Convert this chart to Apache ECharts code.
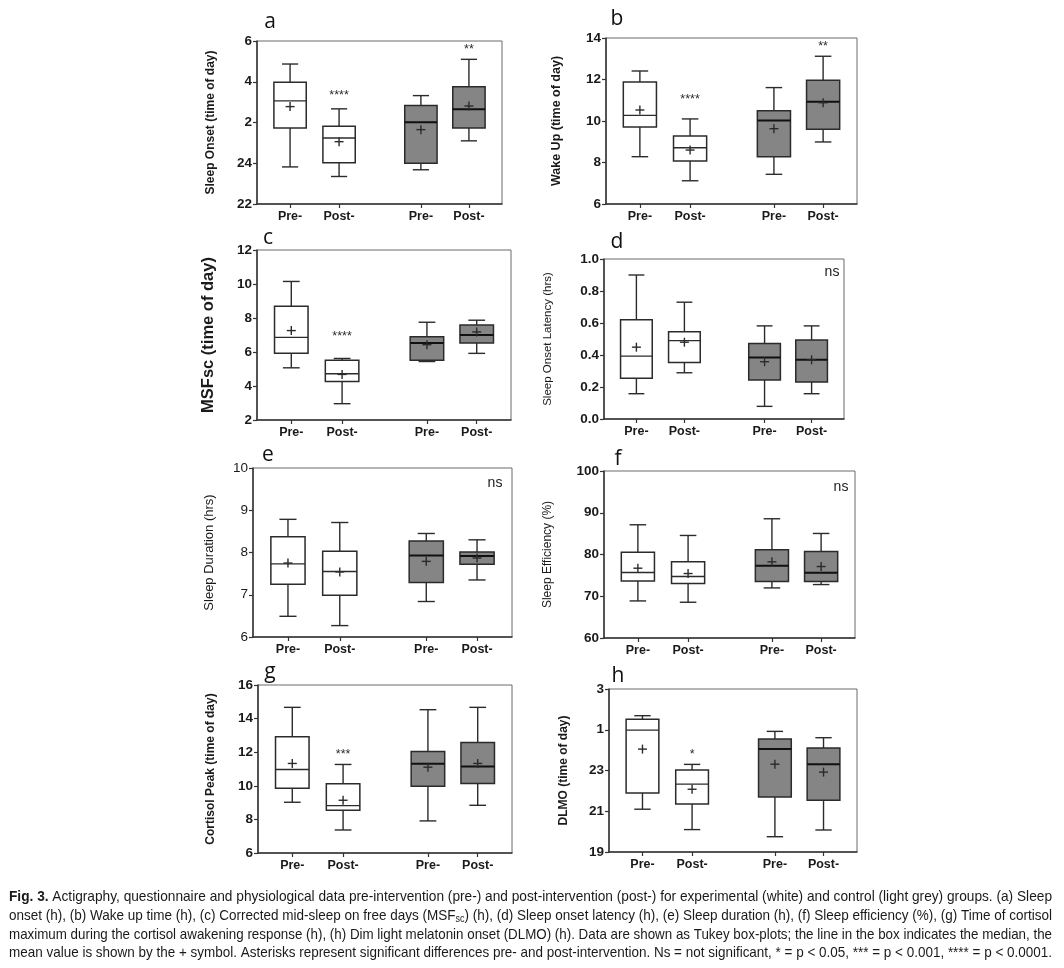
<!DOCTYPE html>
<html lang="en">
<head>
<meta charset="UTF-8">
<title>Fig. 3</title>
<style>
  html, body { margin: 0; padding: 0; background: #fff; }
  #chart { width: 1064px; height: 968px; }
</style>
</head>
<body>
<div id="chart"></div>
<script src="https://cdn.jsdelivr.net/npm/echarts@6/dist/echarts.min.js"></script>
<script>
// groups on every panel: experimental pre/post, control pre/post
var groupLabels = ['Pre-', 'Post-', 'Pre-', 'Post-'];
var groupX = [1, 2, 3.67, 4.65];

// box stats per group: [min, Q1, median, Q3, max, mean]
// clock times after midnight are written as 24+ (e.g. 2 h -> 26)
var sleepOnset = [
  [23.82, 25.73, 27.06, 27.98, 28.87, 26.78],
  [23.35, 24.02, 25.24, 25.81, 26.67, 25.06],
  [23.68, 24.00, 26.01, 26.83, 27.32, 25.65],
  [25.10, 25.73, 26.65, 27.75, 29.10, 26.81]
];
var sleepOnsetSig = ['', '****', '', '**'];
var sleepOnsetSigAt = [null, 27.3, null, 29.57];

var wakeUp = [
  [8.28, 9.71, 10.27, 11.88, 12.41, 10.53],
  [7.12, 8.07, 8.71, 9.28, 10.10, 8.60],
  [7.43, 8.28, 10.02, 10.50, 11.61, 9.63],
  [8.99, 9.60, 10.93, 11.96, 13.12, 10.88]
];
var wakeUpSig = ['', '****', '', '**'];
var wakeUpSigAt = [null, 11.04, null, 13.57];

var msfsc = [
  [5.07, 5.92, 6.86, 8.69, 10.15, 7.26],
  [2.96, 4.26, 4.72, 5.52, 5.62, 4.68],
  [5.44, 5.52, 6.53, 6.90, 7.75, 6.43],
  [5.92, 6.53, 7.00, 7.59, 7.87, 7.18]
];
var msfscSig = ['', '****', '', ''];
var msfscSigAt = [null, 6.9, null, null];

var latency = [
  [0.158, 0.254, 0.393, 0.620, 0.900, 0.449],
  [0.289, 0.353, 0.490, 0.545, 0.730, 0.480],
  [0.079, 0.243, 0.385, 0.472, 0.582, 0.358],
  [0.158, 0.231, 0.370, 0.493, 0.582, 0.370]
];

var duration = [
  [6.49, 7.25, 7.73, 8.375, 8.785, 7.75],
  [6.27, 6.99, 7.55, 8.03, 8.71, 7.54],
  [6.84, 7.29, 7.93, 8.27, 8.45, 7.79],
  [7.35, 7.72, 7.92, 8.01, 8.30, 7.87]
];

var efficiency = [
  [68.88, 73.68, 75.68, 80.56, 87.12, 76.72],
  [68.56, 73.04, 74.72, 78.24, 84.56, 75.44],
  [72.00, 73.52, 77.28, 81.12, 88.56, 78.24],
  [72.80, 73.52, 75.60, 80.72, 85.04, 77.12]
];

var cortisol = [
  [9.02, 9.86, 10.97, 12.92, 14.67, 11.33],
  [7.37, 8.54, 8.82, 10.12, 11.27, 9.14],
  [7.91, 9.98, 11.31, 12.04, 14.53, 11.11],
  [8.84, 10.14, 11.15, 12.58, 14.67, 11.33]
];
var cortisolSig = ['', '***', '', ''];
var cortisolSigAt = [null, 11.88, null, null];

var dlmo = [
  [21.10, 21.90, 24.98, 25.52, 25.69, 24.05],
  [20.10, 21.36, 22.33, 23.02, 23.30, 22.08],
  [19.75, 21.70, 24.05, 24.54, 24.92, 23.31],
  [20.08, 21.54, 23.31, 24.10, 24.61, 22.92]
];
var dlmoSig = ['', '*', '', ''];
var dlmoSigAt = [null, 23.8, null, null];

var captionLines = [
  '{b|Fig. 3.} Actigraphy, questionnaire and physiological data pre-intervention (pre-) and post-intervention (post-) for experimental (white) and control (light grey) groups. (a) Sleep',
  'onset (h), (b) Wake up time (h), (c) Corrected mid-sleep on free days (MSF{sub|sc}) (h), (d) Sleep onset latency (h), (e) Sleep duration (h), (f) Sleep efficiency (%), (g) Time of cortisol',
  'maximum during the cortisol awakening response (h), (h) Dim light melatonin onset (DLMO) (h). Data are shown as Tukey box-plots; the line in the box indicates the median, the',
  'mean value is shown by the + symbol. Asterisks represent significant differences pre- and post-intervention. Ns = not significant, * = p < 0.05, *** = p < 0.001, **** = p < 0.0001.'
];

function clock(v) { return v > 24 ? String(v - 24) : String(v); }

var panels = [
  { letter: 'a', box: [257, 41, 245, 163], min: 22, max: 30, step: 2, fmt: clock,
    name: 'Sleep Onset (time of day)', nameSize: 12, nameBold: true, nameGap: 40,
    stats: sleepOnset, sig: sleepOnsetSig, sigAt: sleepOnsetSigAt, lx: 270, ly: 22 },
  { letter: 'b', box: [606, 38, 251, 166], min: 6, max: 14, step: 2,
    name: 'Wake Up (time of day)', nameSize: 12.5, nameBold: true, nameGap: 43,
    stats: wakeUp, sig: wakeUpSig, sigAt: wakeUpSigAt, lx: 617, ly: 19 },
  { letter: 'c', box: [257, 250, 254, 170], min: 2, max: 12, step: 2,
    name: 'MSFsc (time of day)', nameSize: 16.5, nameBold: true, nameGap: 40,
    stats: msfsc, sig: msfscSig, sigAt: msfscSigAt, lx: 268, ly: 238 },
  { letter: 'd', box: [604, 259, 240, 160], min: 0, max: 1, step: 0.2,
    fmt: function (v) { return v.toFixed(1); },
    name: 'Sleep Onset Latency (hrs)', nameSize: 11.5, nameBold: false, nameGap: 50,
    stats: latency, ns: [832, 272], lx: 617, ly: 242 },
  { letter: 'e', box: [253, 468, 259, 169], min: 6, max: 10, step: 1, tickLight: true,
    name: 'Sleep Duration (hrs)', nameSize: 13, nameBold: false, nameGap: 37,
    stats: duration, ns: [495, 483], lx: 268, ly: 455 },
  { letter: 'f', box: [604, 471, 251, 167], min: 60, max: 100, step: 10,
    name: 'Sleep Efficiency (%)', nameSize: 12, nameBold: false, nameGap: 50,
    stats: efficiency, ns: [841, 487], lx: 618, ly: 459 },
  { letter: 'g', box: [258, 685, 254, 168], min: 6, max: 16, step: 2,
    name: 'Cortisol Peak (time of day)', nameSize: 12, nameBold: true, nameGap: 41,
    stats: cortisol, sig: cortisolSig, sigAt: cortisolSigAt, lx: 270, ly: 672 },
  { letter: 'h', box: [609, 689, 248, 163], min: 19, max: 27, step: 2, fmt: clock,
    name: 'DLMO (time of day)', nameSize: 12, nameBold: true, nameGap: 39,
    stats: dlmo, sig: dlmoSig, sigAt: dlmoSigAt, lx: 618, ly: 676 }
];

var ink = '#2b2b2b';
var font = '"Liberation Sans", Arial, sans-serif';

function boxRenderer(params, api) {
  var x = api.value(0);
  var pMin = api.coord([x, api.value(1)]);
  var pQ1 = api.coord([x, api.value(2)]);
  var pMed = api.coord([x, api.value(3)]);
  var pQ3 = api.coord([x, api.value(4)]);
  var pMax = api.coord([x, api.value(5)]);
  var pMean = api.coord([x, api.value(6)]);
  var half = api.size([0.33, 0])[0];
  var cap = half * 0.5;
  var cx = pMed[0];
  var grey = params.dataIndex >= 2;
  var line = { stroke: ink, lineWidth: 1.4 };
  return {
    type: 'group',
    children: [
      { type: 'line', shape: { x1: cx, y1: pMin[1], x2: cx, y2: pMax[1] }, style: line },
      { type: 'line', shape: { x1: cx - cap, y1: pMin[1], x2: cx + cap, y2: pMin[1] }, style: line },
      { type: 'line', shape: { x1: cx - cap, y1: pMax[1], x2: cx + cap, y2: pMax[1] }, style: line },
      { type: 'rect', shape: { x: cx - half, y: pQ3[1], width: half * 2, height: pQ1[1] - pQ3[1] },
        style: { fill: grey ? '#858585' : '#fff', stroke: ink, lineWidth: 1.5 } },
      { type: 'line', shape: { x1: cx - half, y1: pMed[1], x2: cx + half, y2: pMed[1] },
        style: { stroke: grey ? '#111' : ink, lineWidth: grey ? 2 : 1.4 } },
      { type: 'line', shape: { x1: cx - 4.5, y1: pMean[1], x2: cx + 4.5, y2: pMean[1] }, style: line },
      { type: 'line', shape: { x1: cx, y1: pMean[1] - 4.5, x2: cx, y2: pMean[1] + 4.5 }, style: line }
    ]
  };
}

var grids = [], xAxes = [], yAxes = [], series = [], graphics = [];

panels.forEach(function (p, i) {
  grids.push({ left: p.box[0], top: p.box[1], width: p.box[2], height: p.box[3],
    show: true, borderColor: '#6a6a6a', borderWidth: 1, backgroundColor: 'transparent' });

  xAxes.push({
    gridIndex: i, type: 'value', min: 0.325, max: 5.325,
    axisLine: { onZero: false, lineStyle: { color: '#333', width: 1.5 } },
    axisTick: { customValues: groupX, length: 4, lineStyle: { color: '#333', width: 1.2 } },
    axisLabel: { customValues: groupX, margin: 6, fontSize: 12.5, fontWeight: 'bold', color: '#1a1a1a',
      fontFamily: font,
      formatter: function (v) { return groupLabels[groupX.indexOf(v)] || ''; } },
    splitLine: { show: false }
  });

  yAxes.push({
    gridIndex: i, type: 'value', min: p.min, max: p.max, interval: p.step,
    name: p.name, nameLocation: 'middle', nameGap: p.nameGap,
    nameTextStyle: { fontSize: p.nameSize, fontWeight: p.nameBold ? 'bold' : 'normal',
      color: '#1a1a1a', fontFamily: font },
    axisLine: { show: true, onZero: false, lineStyle: { color: '#333', width: 1.5 } },
    axisTick: { show: true, length: 4, lineStyle: { color: '#333', width: 1.2 } },
    axisLabel: { margin: 5, fontSize: 13.5, fontWeight: p.tickLight ? 'normal' : 'bold',
      color: '#1a1a1a', fontFamily: font, formatter: p.fmt || function (v) { return String(v); } },
    splitLine: { show: false }
  });

  series.push({
    type: 'custom', xAxisIndex: i, yAxisIndex: i, silent: true,
    data: p.stats.map(function (s, k) { return [groupX[k]].concat(s); }),
    encode: { x: 0, y: [1, 2, 3, 4, 5, 6] },
    renderItem: boxRenderer
  });

  if (p.sig) {
    var sigData = [];
    p.sig.forEach(function (t, k) { if (t) sigData.push([groupX[k], p.sigAt[k], t]); });
    series.push({
      type: 'custom', xAxisIndex: i, yAxisIndex: i, silent: true,
      data: sigData,
      encode: { x: 0, y: 1 },
      renderItem: function (params, api) {
        var pt = api.coord([api.value(0), api.value(1)]);
        return { type: 'text', x: pt[0], y: pt[1],
          style: { text: sigData[params.dataIndex][2], fill: ink, align: 'center', verticalAlign: 'middle',
            font: '12.5px ' + font } };
      }
    });
  }

  graphics.push({ type: 'text', x: p.lx, y: p.ly,
    style: { text: p.letter, fill: '#111', align: 'center', verticalAlign: 'middle',
      font: '21px "Open Sans", "Noto Sans", sans-serif' } });

  if (p.ns) {
    graphics.push({ type: 'text', x: p.ns[0], y: p.ns[1],
      style: { text: 'ns', fill: '#1a1a1a', align: 'center', verticalAlign: 'middle',
        font: '14px ' + font } });
  }
});

// caption: condensed text, each line stretched to the full measure
var capFont = '"Liberation Sans Narrow", "Liberation Sans", Arial, sans-serif';
var capSize = 15;
var capLeft = 9, capWidth = 1043;
var capY = [897, 916, 935, 953];
var measureCtx = document.createElement('canvas').getContext('2d');
function measure(str, f) { measureCtx.font = f; return measureCtx.measureText(str).width; }
function lineWidth(line) {
  var w = 0;
  var re = /\{(\w+)\|([^}]*)\}/g, last = 0, m;
  while ((m = re.exec(line)) !== null) {
    w += measure(line.slice(last, m.index), capSize + 'px ' + capFont);
    if (m[1] === 'b') w += measure(m[2], 'bold ' + capSize + 'px ' + capFont);
    else w += measure(m[2], '10px ' + capFont);
    last = re.lastIndex;
  }
  w += measure(line.slice(last), capSize + 'px ' + capFont);
  return w;
}
captionLines.forEach(function (line, k) {
  var w = lineWidth(line);
  graphics.push({ type: 'text', x: capLeft, y: capY[k], scaleX: capWidth / w,
    style: { text: line, fill: '#1a1a1a', align: 'left', verticalAlign: 'middle',
      font: capSize + 'px ' + capFont,
      rich: {
        b: { fontWeight: 'bold', fontSize: capSize, fontFamily: capFont, fill: '#1a1a1a' },
        sub: { fontSize: 10, fontFamily: capFont, fill: '#1a1a1a', padding: [6, 0, 0, 0] }
      } } });
});

var chart = echarts.init(document.getElementById('chart'), null, { renderer: 'canvas' });
chart.setOption({
  animation: false,
  backgroundColor: '#fff',
  grid: grids,
  xAxis: xAxes,
  yAxis: yAxes,
  series: series,
  graphic: graphics
});
</script>
</body>
</html>
